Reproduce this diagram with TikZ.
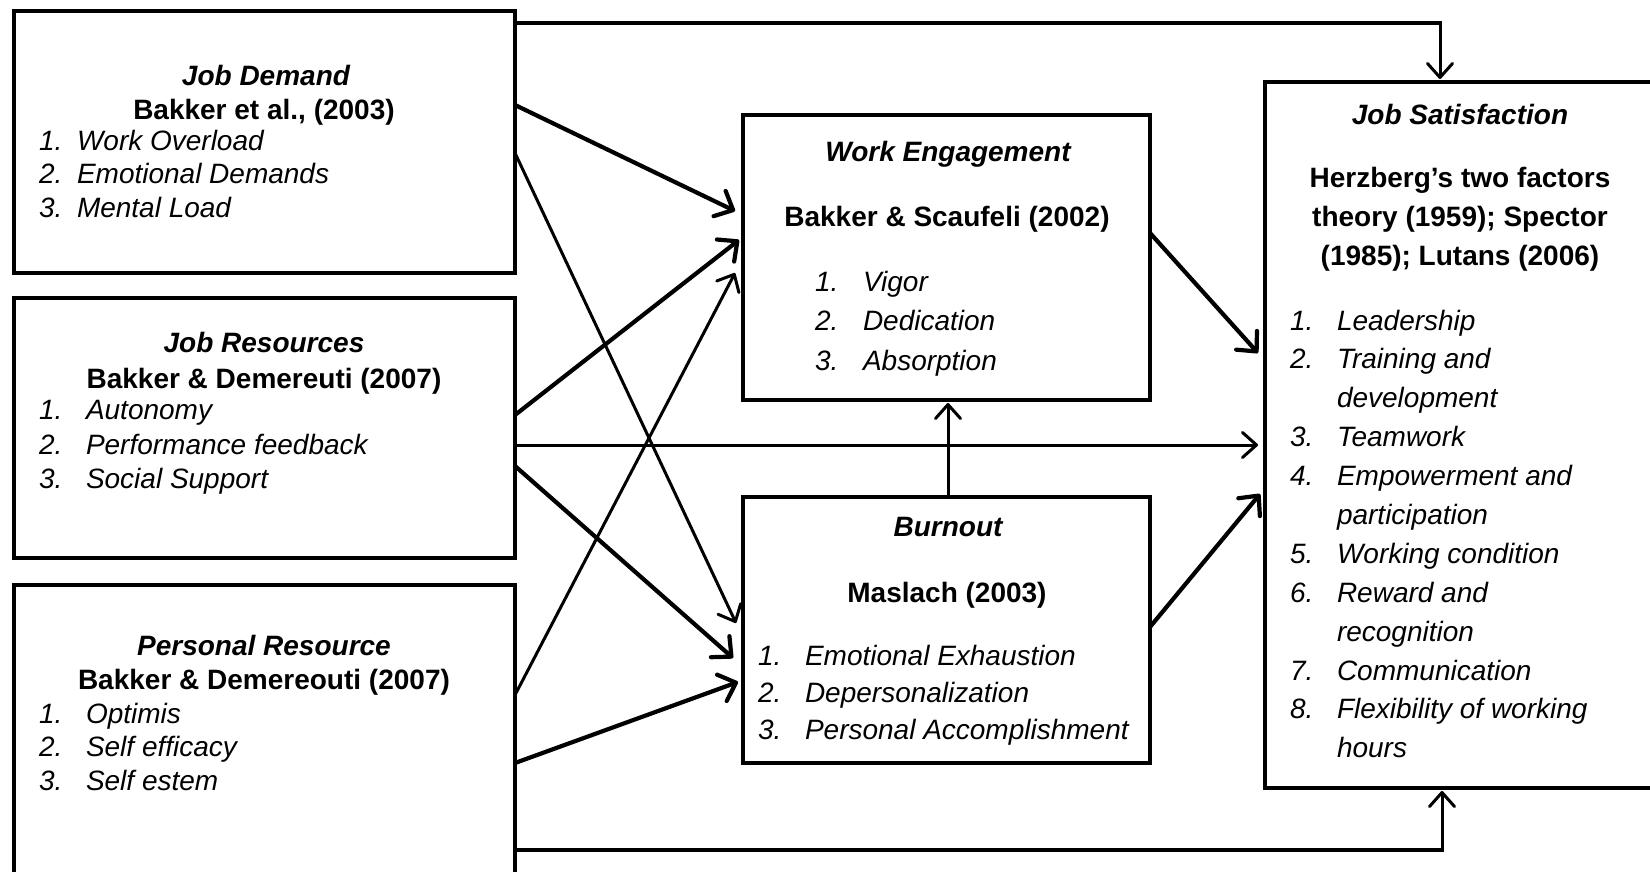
\documentclass[tikz,border=0pt]{standalone}
\usepackage{fontspec}
\setmainfont{Liberation Sans}
\usetikzlibrary{arrows.meta}
\begin{document}
\begin{tikzpicture}[x=1pt,y=-1pt,
  box/.style={draw, line width=4.6pt, rectangle, inner sep=0pt, outer sep=0pt},
  txt/.style={inner sep=0pt, outer sep=0pt},
  head/.style={txt, anchor=base, font=\fontsize{28}{34}\selectfont\bfseries\itshape},
  refline/.style={txt, anchor=base, font=\fontsize{28}{34}\selectfont\bfseries},
  item/.style={txt, anchor=base west, font=\fontsize{28}{34}\selectfont\itshape},
  link/.style={line width=4.2pt, line cap=round,
    -{Straight Barb[length=15pt,width=28pt,round]}},
  thinlink/.style={line width=3pt, line cap=round,
    -{Straight Barb[length=14pt,width=25pt,round]}},
  rail/.style={line width=4.6pt}
]
\fill[white] (0,0) rectangle (1650,872);
\useasboundingbox (0,0) rectangle (1650,872);
\clip (0,0) rectangle (1650,872);

% ---------- boxes ----------
\node[box, minimum width=501pt, minimum height=262pt] (jd) at (264.5,142) {};
\node[box, minimum width=501pt, minimum height=260pt] (jr) at (264.5,428) {};
\node[box, minimum width=501pt, minimum height=300pt] (pr) at (264.5,735) {};
\node[box, minimum width=407pt, minimum height=285pt] (we) at (946.5,257.5) {};
\node[box, minimum width=407pt, minimum height=266pt] (bo) at (946.5,630) {};
\node[box, minimum width=400pt, minimum height=706pt] (js) at (1465,435) {};

% ---------- Job Demand ----------
\node[head] (jdh) at (266,86) {Job Demand};
\node[refline] (jdr) at (264,120) {Bakker et al., (2003)};
\foreach \n/\t/\y in {1/Work Overload/150, 2/Emotional Demands/184, 3/Mental Load/218}{
  \node[item] (jdn\n) at (39,\y) {\n.};
  \node[item] (jdi\n) at (77,\y) {\t};
}

% ---------- Job Resources ----------
\node[head] (jrh) at (264,352) {Job Resources};
\node[refline] (jrr) at (264,388) {Bakker \& Demereuti (2007)};
\foreach \n/\t/\y in {1/Autonomy/419, 2/Performance feedback/454, 3/Social Support/488}{
  \node[item] (jrn\n) at (39,\y) {\n.};
  \node[item] (jri\n) at (86,\y) {\t};
}

% ---------- Personal Resource ----------
\node[head] (prh) at (264,655) {Personal Resource};
\node[refline] (prr) at (264,689) {Bakker \& Demereouti (2007)};
\foreach \n/\t/\y in {1/Optimis/723, 2/Self efficacy/756, 3/Self estem/790}{
  \node[item] (prn\n) at (39,\y) {\n.};
  \node[item] (pri\n) at (86,\y) {\t};
}

% ---------- Work Engagement ----------
\node[head] (weh) at (948,161) {Work Engagement};
\node[refline] (wer) at (947,226) {Bakker \& Scaufeli (2002)};
\foreach \n/\t/\y in {1/Vigor/291, 2/Dedication/330, 3/Absorption/370}{
  \node[item] (wen\n) at (815,\y) {\n.};
  \node[item] (wei\n) at (863,\y) {\t};
}

% ---------- Burnout ----------
\node[head] (boh) at (948,536) {Burnout};
\node[refline] (bor) at (947,602) {Maslach (2003)};
\foreach \n/\t/\y in {1/Emotional Exhaustion/665, 2/Depersonalization/702, 3/Personal Accomplishment/739}{
  \node[item] (bon\n) at (758,\y) {\n.};
  \node[item] (boi\n) at (805,\y) {\t};
}

% ---------- Job Satisfaction ----------
\node[head] (jsh) at (1460,125) {Job Satisfaction};
\node[refline] (jsr1) at (1460,187) {Herzberg’s two factors};
\node[refline] (jsr2) at (1460,226) {theory (1959); Spector};
\node[refline] (jsr3) at (1460,265) {(1985); Lutans (2006)};
\foreach \n/\t/\y in {1/Leadership/330, 2/Training and/368, 3/Teamwork/446,
    4/Empowerment and/485, 5/Working condition/563, 6/Reward and/602,
    7/Communication/680, 8/Flexibility of working/718}{
  \node[item] (jsn\n) at (1290,\y) {\n.};
  \node[item] (jsi\n) at (1337,\y) {\t};
}
\foreach \k/\t/\y in {2/development/407, 4/participation/524, 6/recognition/641, 8/hours/757}{
  \node[item] (jsc\k) at (1337,\y) {\t};
}

% ---------- connectors ----------
\draw[link] ([yshift=37pt]jd.east) -- ([xshift=-8pt,yshift=46.5pt]we.west);
\draw[thinlink] ([yshift=-11pt]jd.east) -- ([xshift=-7pt,yshift=7pt]bo.west);
\draw[link] ([yshift=13pt]jr.east) -- ([xshift=-4pt,yshift=17.5pt]we.west);
\draw[thinlink] ([yshift=-17pt]jr.east) -- ([xshift=-7pt,yshift=-10pt]js.west);
\draw[link] ([yshift=-38pt]jr.east) -- ([xshift=-10pt,yshift=-28pt]bo.west);
\draw[thinlink] ([yshift=40pt]pr.east) -- ([xshift=-8pt,yshift=-15.5pt]we.west);
\draw[link] ([yshift=-28pt]pr.east) -- ([xshift=-5pt,yshift=-52pt]bo.west);
\draw[link] ([yshift=24.5pt]we.east) -- ([xshift=-7pt,yshift=82pt]js.west);
\draw[link] ([yshift=3pt]bo.east) -- ([xshift=-5pt,yshift=-59pt]js.west);
\draw[thinlink] ([xshift=1.5pt]bo.north) -- ([xshift=1.5pt,yshift=-3pt]we.south);

% top and bottom routes into Job Satisfaction
\coordinate (topturn) at ([xshift=-25pt]js.north |- 0,23);
\draw[rail] ([yshift=119pt]jd.east) -- ([xshift=1.5pt]topturn);
\draw[thinlink] (topturn) -- ([xshift=-25pt,yshift=3pt]js.north);
\coordinate (botturn) at ([xshift=-23pt]js.south |- 0,850);
\draw[rail] ([yshift=-115pt]pr.east) -- ([xshift=1.5pt]botturn);
\draw[thinlink] (botturn) -- ([xshift=-23pt,yshift=-3pt]js.south);
\end{tikzpicture}
\end{document}
